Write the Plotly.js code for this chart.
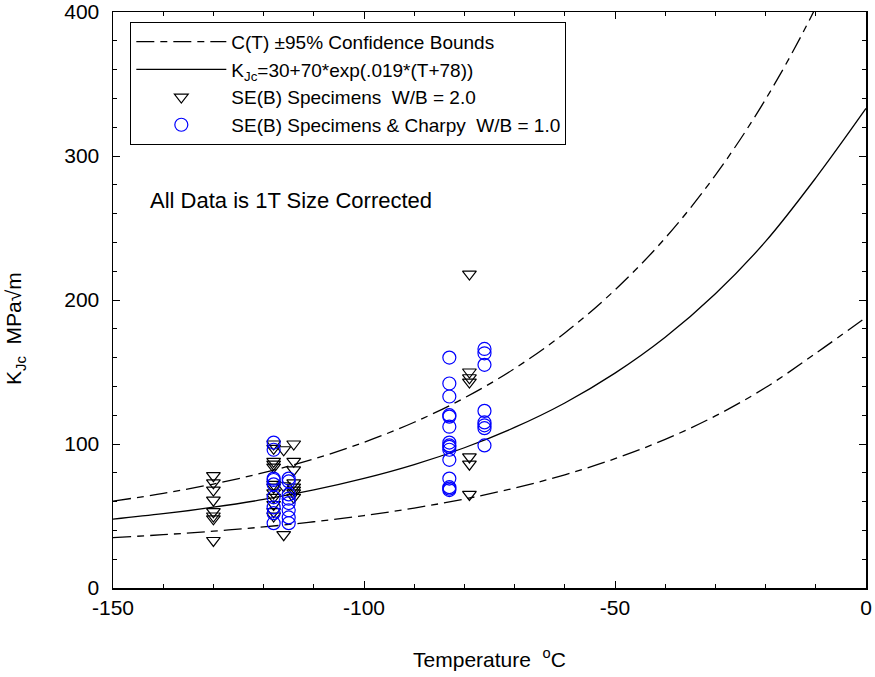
<!DOCTYPE html>
<html>
<head>
<meta charset="utf-8">
<script src="https://cdn.plot.ly/plotly-3.0.1.min.js"></script>
<style>html,body{margin:0;padding:0;background:#fff;}#chart{width:875px;height:677px;}</style>
</head>
<body>
<div id="chart"></div>
<script>
// Curve samples (temperature, °C)
var curveT = [-150,-140,-130,-120,-110,-100,-90,-80,-70,-60,-50,-40,-30,-20,-10,0];
var medianK = [47.8,51.6,56.1,61.5,68.1,76.1,85.7,97.4,111.5,128.5,149.2,174.1,204.3,240.7,284.8,333];
var upperK  = [60.3,65.7,72.2,80.1,89.6,101.2,115.1,132.0,152.4,177.1,207.0,243.0,286.7,339.4,403.2,480.4];
var lowerK  = [35.0,37.0,39.5,42.4,46.0,50.3,55.5,61.8,69.4,78.6,89.8,103.2,119.5,139.2,163.0,188];

// SE(B) W/B = 2.0 (triangles)
var triT = [-130,-130,-130,-130,-130,-130,-130,-130,
            -118,-118,-118,-118,-118,-118,-118,-118,-118,-118,-118,-118,
            -116,-116,-116,
            -114,-114,-114,-114,-114,-114,-114,-114,
            -79,-79,-79,-79,-79,-79,-79];
var triK = [78,73,68,61,53,50,48,33,
            100,97,88,86,84,72,70,66,63,58,53,50,
            96,71,37,
            100,88,82,73,70,68,66,63,
            218,150,146,143,91,86,65];

// SE(B) & Charpy W/B = 1.0 (circles)
var cirT = [-118,-118,-118,-118,-118,-118,-118,-118,-118,
            -115,-115,-115,-115,-115,-115,-115,-115,
            -83,-83,-83,-83,-83,-83,-83,-83,-83,-83,-83,-83,-83,-83,-83,
            -76,-76,-76,-76,-76,-76,-76,-76];
var cirK = [101,96,76,75,72,63,56,52,45,
            76,74,65,62,59,54,49,45,
            160,142,133,120,119,112,101,99,98,96,89,76,70,69,68,
            166,163,155,123,115,113,111,99];

var xTickVals = [-150, -100, -50, 0];
var xTickText = ['-150', '-100', '-50', '0'];
var yTickVals = [0, 100, 200, 300, 400];
var yTickText = ['0', '100', '200', '300', '400'];

var dashPat = "18px,6px,7px,6px";
var traces = [
  {x: curveT, y: upperK, mode: 'lines', line: {color: 'black', width: 1.3, dash: dashPat, shape: 'spline'},
   name: 'C(T) \u00B195% Confidence Bounds', legendgroup: 'b'},
  {x: curveT, y: lowerK, mode: 'lines', line: {color: 'black', width: 1.3, dash: dashPat, shape: 'spline'},
   name: 'lower', legendgroup: 'b', showlegend: false},
  {x: curveT, y: medianK, mode: 'lines', line: {color: 'black', width: 1.3, shape: 'spline'},
   name: 'K<sub>Jc</sub>=30+70*exp(.019*(T+78))'},
  {x: triT, y: triK, mode: 'markers', marker: {symbol: 'triangle-down-open', size: 12, color: 'black', line: {width: 1.2}},
   name: 'SE(B) Specimens  W/B = 2.0'},
  {x: cirT, y: cirK, mode: 'markers', marker: {symbol: 'circle-open', size: 13, color: '#0000ff', line: {width: 1.2}},
   name: 'SE(B) Specimens & Charpy  W/B = 1.0'}
];

var fontFam = 'Liberation Sans, Arial, sans-serif';
var layout = {
  width: 875, height: 677,
  margin: {l: 113, r: 9, t: 12, b: 89},
  paper_bgcolor: 'white', plot_bgcolor: 'white',
  font: {family: fontFam, size: 21, color: 'black'},
  showlegend: true,
  legend: {x: 0.023, y: 0.983, xanchor: 'left', yanchor: 'top', bordercolor: 'black', borderwidth: 1,
           bgcolor: 'white', font: {family: fontFam, size: 19}, tracegroupgap: 0, itemwidth: 90},
  xaxis: {range: [-150, 0], tickvals: xTickVals, ticktext: xTickText, showgrid: false, zeroline: false,
          showline: true, linecolor: 'black', linewidth: 1.5, mirror: 'ticks',
          ticks: 'inside', ticklen: 7, tickcolor: 'black', tickfont: {size: 21},
          minor: {dtick: 10, tick0: -150, ticks: 'inside', ticklen: 4, tickcolor: 'black', showgrid: false},
          title: {text: 'Temperature  <sup>o</sup>C', font: {size: 21}, standoff: 34}},
  yaxis: {range: [0, 400], tickvals: yTickVals, ticktext: yTickText, showgrid: false, zeroline: false,
          showline: true, linecolor: 'black', linewidth: 1.5, mirror: 'ticks',
          ticks: 'inside', ticklen: 7, tickcolor: 'black', tickfont: {size: 21}, ticklabelstandoff: 8,
          minor: {dtick: 20, ticks: 'inside', ticklen: 4, tickcolor: 'black', showgrid: false}},
  annotations: [
    {xref: 'paper', yref: 'paper', x: 0.046, y: 0.672, xanchor: 'left', yanchor: 'middle',
     text: 'All Data is 1T Size Corrected', showarrow: false, font: {size: 22}},
    {xref: 'paper', yref: 'paper', x: -0.13, y: 0.45, xanchor: 'center', yanchor: 'middle', textangle: -90,
     text: 'K<sub>Jc</sub>  MPa\u221Am', showarrow: false, font: {size: 21}}
  ]
};
Plotly.newPlot('chart', traces, layout, {displayModeBar: false, staticPlot: true});
</script>
</body>
</html>
